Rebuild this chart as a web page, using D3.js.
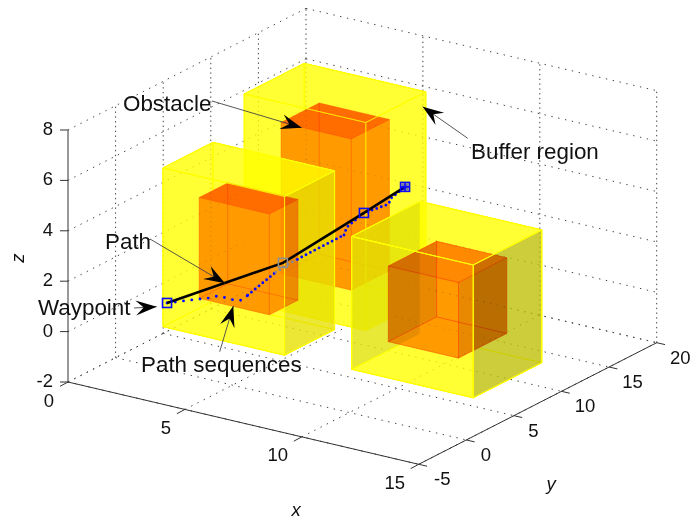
<!DOCTYPE html>
<html><head><meta charset="utf-8">
<script src="https://cdn.jsdelivr.net/npm/d3@7"></script>
<style>html,body{margin:0;padding:0;background:#fff}svg{display:block}text{font-family:"Liberation Sans",Arial,sans-serif;fill:#111}</style>
</head><body><svg id="c" width="692" height="522"></svg>
<script>
// axis ticks
const xTicks=[0,5,10,15], yTicks=[-5,0,5,10,15,20], zTicks=[-2,0,2,4,6,8];
// boxes as [x0,x1,y0,y1,z0,z1]; drawing order is back to front
const bufferBoxes=[[3.1,8.3,5.9,12.2,-0.25,8],[2.5,7.7,-1.16,4.09,0,6.3],[9.75,14.95,0.85,8.05,-0.5,4.77]];
const obstacleBoxes=[[4.18,7.18,7.12,11.12,0.87,6.87],[3.6,6.6,-0.06,2.94,1.15,5.15],[10.86,13.86,1.98,7.05,0.62,3.62]];
// flight path: [x,y,z]
const waypoints=[[2.2,0,0.65],[5.12,5,1.91],[6.55,10,3.24],[6.68,14,3.53]];
const sequenceSparse=[[2.2,0,0.65],[2.805,1,0.707],[3.108,2,0.647],[3.332,2.5,0.69],[3.53,3,0.558],[3.725,3.5,0.397],[3.914,3.8,0.408],[4.021,4,0.579]];
const sequenceBlueA=[[4.021,4,0.579],[4.417,4.5,1.029],[4.812,5,1.471]];
const sequenceGray=[[4.812,5,1.471],[5.046,6,1.71],[5.17,6.4,1.79]];
const sequenceBlueB=[[5.17,6.4,1.79],[5.323,7,1.91],[6.104,9,2.46]];
const sequenceBlueC=[[6.104,9,2.46],[6.016,9.5,2.65],[6.55,10,3.24],[6.778,12,3.246],[6.72,12.5,3.40],[6.68,14,3.53]];
// annotations
const noteLabels=["Obstacle","Buffer region","Path","Waypoint","Path sequences"];
const noteTextPos=[[123,110.5],[471,159],[105,249],[38,315],[141,372]];
const noteTails=[[212,101],[467.7,138.3],[150,239],[134,308],[219.7,351.7]];
const noteTips=[[301.7,127.7],[422.7,106.7],[225,283.3],[156.7,306.7],[233.3,306]];

// oblique projection, one scale for each axis's screen component
const ox=68, oy=382;
const xToPx=d3.scaleLinear([0,15],[0,350.7]), xToPy=d3.scaleLinear([0,15],[0,82.3]);
const yToPx=d3.scaleLinear([-5,20],[0,238]), yToPy=d3.scaleLinear([-5,20],[0,-121.6]);
const zToPy=d3.scaleLinear([-2,8],[0,-252]);
const P=(x,y,z)=>[ox+xToPx(x)+yToPx(y), oy+xToPy(x)+yToPy(y)+zToPy(z)];
const line=d3.line();
const svg=d3.select("#c");
const L=pts=>line(pts.map(p=>P(...p)));
const [X0,X1]=d3.extent(xTicks),[Y0,Y1]=d3.extent(yTicks),[Z0,Z1]=d3.extent(zTicks);

// grid
const grid=svg.append("g").attr("fill","none").attr("stroke","#444").attr("stroke-width",1);
const gl=(a,b,dash)=>grid.append("path").attr("d",L([a,b])).attr("stroke-dasharray",dash);
const S="1.4 5.6", V="1.4 3.4";
xTicks.forEach(x=>{ if(x>X0) gl([x,Y1,Z0],[x,Y1,Z1],V); gl([x,Y0,Z0],[x,Y1,Z0],S);});
yTicks.forEach(y=>{ if(y>Y0) gl([X0,y,Z0],[X0,y,Z1],V); gl([X0,y,Z0],[X1,y,Z0],S);});
zTicks.forEach(z=>{ gl([X0,Y0,z],[X0,Y1,z],S); gl([X0,Y1,z],[X1,Y1,z],S);});

// boxes
function faces(b){const [a,c,d,e,f,g]=b;return {
 bottom:[[a,d,f],[c,d,f],[c,e,f],[a,e,f]],
 back:[[a,e,f],[c,e,f],[c,e,g],[a,e,g]],
 left:[[a,d,f],[a,e,f],[a,e,g],[a,d,g]],
 front:[[a,d,f],[c,d,f],[c,d,g],[a,d,g]],
 right:[[c,d,f],[c,e,f],[c,e,g],[c,d,g]],
 top:[[a,d,g],[c,d,g],[c,e,g],[a,e,g]]};}
const order=["bottom","back","left","front","right","top"];
const rightFace=["#ffff00","#dcd200","#a4a40f"];
const leftFace=["#ffff00","#ffff00","#a4a40f"];
const obsTop=["#ff8c14","#ff8c14","#ffb014"];
const obsXFace=["#ffc70f","#ffc70f","#e8b00f"];
const obsEdge=[.4,.4,.6];
const rimOpacity=[.55,.6,1];
bufferBoxes.forEach((b,i)=>{
  const g=svg.append("g"), F=faces(b);
  order.forEach(k=>g.append("path").attr("d",L(F[k])+"Z")
    .attr("fill",k==="left"?leftFace[i]:k==="right"?rightFace[i]:"#ffff00").attr("fill-opacity",.55)
    .attr("stroke","#ffff00").attr("stroke-width",1));
  const o=faces(obstacleBoxes[i]);
  order.forEach(k=>g.append("path").attr("d",L(o[k])+"Z")
    .style("mix-blend-mode","multiply")
    .attr("fill",k==="top"?obsTop[i]:(k==="left"||k==="right")?obsXFace[i]:"#ffc714")
    .attr("stroke","#ff8a1e").attr("stroke-width",.9).attr("stroke-opacity",obsEdge[i]));
  ["front","right","top"].forEach(k=>g.append("path").attr("d",L(F[k])+"Z")
    .attr("fill","none").attr("stroke","#ffff00").attr("stroke-width",1).attr("stroke-opacity",rimOpacity[i]));
});

// path sequences (dotted)
const dotted=(pts,col,pitch)=>svg.append("path").attr("d",L(pts)).attr("fill","none").attr("stroke",col)
  .attr("stroke-width",2.9).attr("stroke-linecap","round").attr("stroke-dasharray","0 "+pitch);
dotted(sequenceSparse,"#0a0aff",8.3);
dotted(sequenceBlueA,"#0a0aff",4.9);
dotted(sequenceGray,"#8a8a8a",4.9);
dotted(sequenceBlueB,"#0a0aff",4.9);
dotted(sequenceBlueC,"#0a0aff",4.9);
// path
svg.append("path").attr("d",L(waypoints)).attr("fill","none").attr("stroke","#000").attr("stroke-width",2.6);
const wpColor=["#0a0aff","#8f8f8f","#0a0aff","#0a0aff"];
waypoints.forEach((w,i)=>{const [px,py]=P(...w);
  svg.append("rect").attr("x",px-4.5).attr("y",py-4.5).attr("width",9).attr("height",9).attr("fill","none").attr("stroke",wpColor[i]).attr("stroke-width",1.6);
  if(i===waypoints.length-1){
    svg.append("rect").attr("x",px-3.5).attr("y",py-3.5).attr("width",7).attr("height",7).attr("fill","#0a0aff").attr("fill-opacity",.55);
    svg.append("path").attr("d",`M${px-4},${py}H${px+4}M${px},${py-4}V${py+4}`).attr("stroke","#0a0aff").attr("stroke-width",1.6);
  }
});

// axes
const ax=svg.append("g").attr("fill","none").attr("stroke","#333").attr("stroke-width",1);
ax.append("path").attr("d",L([[X0,Y0,Z0],[X0,Y0,Z1]]));
ax.append("path").attr("d",L([[X0,Y0,Z0],[X1,Y0,Z0]]));
ax.append("path").attr("d",L([[X1,Y0,Z0],[X1,Y1,Z0]]));
zTicks.forEach(z=>{const [a,b]=P(X0,Y0,z);ax.append("path").attr("d",`M${a-8},${b}H${a}`);});
xTicks.forEach(x=>{const [a,b]=P(x,Y0,Z0);ax.append("path").attr("d",`M${a},${b}L${a-8},${b+4.3}`);});
yTicks.forEach(y=>{const [a,b]=P(X1,y,Z0);ax.append("path").attr("d",`M${a},${b}L${a+8.3},${b+1.9}`);});
const T=(s,x,y,o={})=>svg.append("text").text(s).attr("x",x).attr("y",y).attr("font-size",o.size||18.5)
  .attr("text-anchor",o.anchor||"middle").attr("font-style",o.italic?"italic":null).attr("transform",o.rot?`rotate(${o.rot} ${x} ${y})`:null);
zTicks.forEach(z=>{const [a,b]=P(X0,Y0,z);T(String(z),a-15,b+5,{anchor:"end"});});
xTicks.forEach(x=>{const [a,b]=P(x,Y0,Z0);T(String(x),a-(x>=10?24:19),b+24.5);});
yTicks.forEach(y=>{const [a,b]=P(X1,y,Z0);T(String(y),a+(y>=0&&y<10?19.5:23.5),b+21);});
T("x",296,516,{italic:true});
T("y",551,490,{italic:true});
T("z",24,258,{italic:true,rot:-90});

// annotations
noteLabels.forEach((s,i)=>{
  const [tx,ty]=noteTextPos[i];
  T(s,tx,ty,{anchor:"start",size:22.4});
  const [x0,y0]=noteTails[i],[x1,y1]=noteTips[i];
  svg.append("path").attr("d",line([[x0,y0],[x1,y1]])).attr("stroke","#444").attr("stroke-width",.9).attr("fill","none");
  const ang=Math.atan2(y1-y0,x1-x0),c=Math.cos(ang),s2=Math.sin(ang);
  const m=(u,v)=>[x1+u*c-v*s2,y1+u*s2+v*c];
  svg.append("path").attr("d",line([m(0,0),m(-21,-7.5),m(-13,0),m(-21,7.5)])+"Z").attr("fill","#000");
});
</script></body></html>
